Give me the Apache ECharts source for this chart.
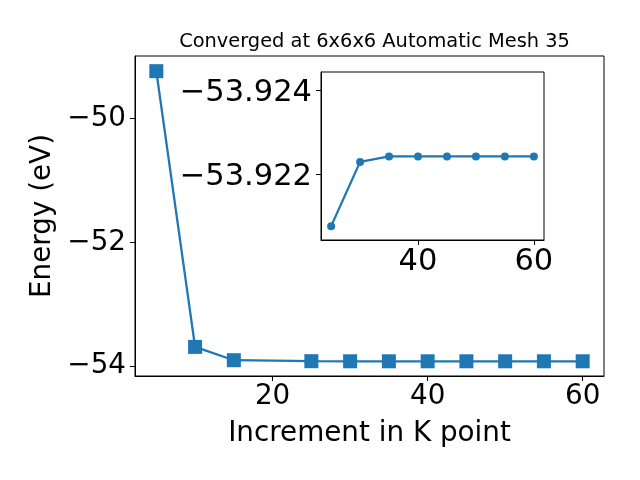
<!DOCTYPE html>
<html>
<head>
<meta charset="utf-8">
<script src="https://cdn.jsdelivr.net/npm/echarts@6/dist/echarts.min.js"></script>
<style>html,body{margin:0;padding:0;background:#fff;}#c{width:640px;height:480px;}</style>
</head>
<body>
<div id="c"></div>
<script>
// Data
const titleText = 'Converged at 6x6x6 Automatic Mesh 35';
const xName = 'Increment in K point';
const yName = 'Energy (eV)';
const kpoints = [5, 10, 15, 25, 30, 35, 40, 45, 50, 55, 60];
const energies = [-49.235, -53.69, -53.905, -53.92076, -53.92229, -53.92242, -53.92242, -53.92242, -53.92242, -53.92242, -53.92242];
const insetK = [25, 30, 35, 40, 45, 50, 55, 60];
const insetE = [-53.92076, -53.92229, -53.92242, -53.92242, -53.92242, -53.92242, -53.92242, -53.92242];
const mainXTicks = [20, 40, 60];
const mainYTicks = [-54, -52, -50];
const insetXTicks = [40, 60];
const insetYTicks = [-53.924, -53.922];

const C = '#1f77b4';
const FF = 'DejaVu Sans';
const minus = (s) => s.replace('-', '\u2212');

const chart = echarts.init(document.getElementById('c'), null, {renderer: 'canvas'});
const axisCommon = {
  splitLine: {show: false},
  axisLine: {show: true, onZero: false, lineStyle: {color: '#000', width: 1}},
  axisTick: {show: true, inside: false, length: 5, lineStyle: {color: '#000', width: 1}},
};
chart.setOption({
  animation: false,
  backgroundColor: '#fff',
  title: {
    text: titleText, left: 369.5, top: 27, textAlign: 'center',
    textStyle: {fontFamily: FF, fontSize: 19.4, fontWeight: 'normal', color: '#000'}
  },
  grid: [
    {left: 135, top: 56, right: 36, bottom: 104, show: true, borderColor: '#000', borderWidth: 1, backgroundColor: 'transparent'},
    {left: 321, top: 72, width: 223, height: 168, show: true, borderColor: '#000', borderWidth: 1, backgroundColor: '#fff'}
  ],
  xAxis: [
    Object.assign({}, axisCommon, {
      gridIndex: 0, type: 'value', min: 2.25, max: 62.75,
      name: xName, nameLocation: 'middle', nameGap: 44,
      nameTextStyle: {fontFamily: FF, fontSize: 27.8, color: '#000'},
      axisLabel: {customValues: mainXTicks, margin: 7, fontFamily: FF, fontSize: 27.8, color: '#000', formatter: v => minus(String(v))},
      axisTick: Object.assign({}, axisCommon.axisTick, {customValues: mainXTicks})
    }),
    Object.assign({}, axisCommon, {
      gridIndex: 1, type: 'value', min: 23.25, max: 61.75,
      axisLabel: {customValues: insetXTicks, margin: 7, fontFamily: FF, fontSize: 30.5, color: '#000', formatter: v => minus(String(v))},
      axisTick: Object.assign({}, axisCommon.axisTick, {customValues: insetXTicks})
    })
  ],
  yAxis: [
    Object.assign({}, axisCommon, {
      gridIndex: 0, type: 'value', min: -54.16, max: -48.99,
      name: yName, nameLocation: 'middle', nameGap: 76, nameRotate: 90,
      nameTextStyle: {fontFamily: FF, fontSize: 27.8, color: '#000'},
      axisLabel: {customValues: mainYTicks, margin: 9, fontFamily: FF, fontSize: 27.8, color: '#000', formatter: v => minus(String(v))},
      axisTick: Object.assign({}, axisCommon.axisTick, {customValues: mainYTicks})
    }),
    Object.assign({}, axisCommon, {
      gridIndex: 1, type: 'value', inverse: true, min: -53.92443, max: -53.92043,
      axisLabel: {
        customValues: insetYTicks, margin: 9, color: '#000',
        formatter: v => '{a|' + minus(v.toFixed(3)) + '}',
        rich: {a: {fontFamily: FF, fontSize: 30.5, color: '#000', padding: [6, 0, 0, 0]}}
      },
      axisTick: Object.assign({}, axisCommon.axisTick, {customValues: insetYTicks})
    })
  ],
  series: [
    {
      type: 'line', xAxisIndex: 0, yAxisIndex: 0,
      data: kpoints.map((k, i) => [k, energies[i]]),
      symbol: 'rect', symbolSize: 14, showAllSymbol: true,
      lineStyle: {color: C, width: 2.3}, itemStyle: {color: C}, z: 2
    },
    {
      type: 'line', xAxisIndex: 1, yAxisIndex: 1,
      data: insetK.map((k, i) => [k, insetE[i]]),
      symbol: 'circle', symbolSize: 8, showAllSymbol: true,
      lineStyle: {color: C, width: 2.3}, itemStyle: {color: C}, z: 3
    }
  ]
});
</script>
</body>
</html>
